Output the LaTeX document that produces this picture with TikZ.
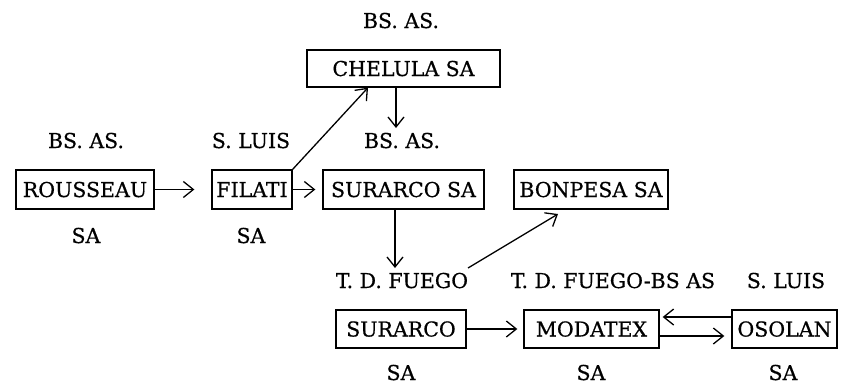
\documentclass[tikz,border=0pt]{standalone}
\usepackage{fontspec}
\setmainfont{DejaVu Serif}[FakeBold=0.6]
\usetikzlibrary{arrows.meta,calc}
\begin{document}
\begin{tikzpicture}[x=1pt,y=-1pt,
  txt/.style={font=\fontsize{20.5}{24}\selectfont},
  box/.style={txt,draw,line width=1.3pt,inner sep=0pt,text height=15pt,text depth=0pt,minimum height=38pt},
  lbl/.style={txt,inner sep=0pt,anchor=base},
  arr/.style={line width=1.3pt,-{Straight Barb[length=10pt,width=16pt,line width=1.3pt]}}]
\useasboundingbox (0,0) rectangle (843,384);
% boxes
\node[box,minimum width=193pt,minimum height=37pt] (chel) at (403.5,68.5) {CHELULA SA};
\node[box,minimum width=138pt,minimum height=39pt] (rous) at (85,189.5) {ROUSSEAU};
\node[box,minimum width=80pt,minimum height=39pt] (fil) at (252,189.5) {FILATI};
\node[box,minimum width=161pt,minimum height=39pt] (sursa) at (403.5,189.5) {SURARCO SA};
\node[box,minimum width=154pt,minimum height=39pt] (bon) at (591,189.5) {BONPESA SA};
\node[box,minimum width=130pt] (sur) at (401,329) {SURARCO};
\node[box,minimum width=135pt] (mod) at (591.5,329) {MODATEX};
\node[box,minimum width=105pt] (oso) at (784.5,329) {OSOLAN};
% labels
\node[lbl] (lchel) at (401,28) {BS. AS.};
\node[lbl] (lrous) at (86,148) {BS. AS.};
\node[lbl] (lfil) at (251,148) {S. LUIS};
\node[lbl] (lsursa) at (402,148) {BS. AS.};
\node[lbl] (srous) at (86,243) {SA};
\node[lbl] (sfil) at (251,243) {SA};
\node[lbl] (lsur) at (402,288) {T. D. FUEGO};
\node[lbl] (lmod) at (613,288) {T. D. FUEGO-BS AS};
\node[lbl] (loso) at (786,288) {S. LUIS};
\node[lbl] (ssur) at (401,380) {SA};
\node[lbl] (smod) at (591,380) {SA};
\node[lbl] (soso) at (783,380) {SA};
% connector end points
\coordinate (a1) at ($(fil.west)+(-17,0)$);
\coordinate (a2) at ($(sursa.west)+(-7,0)$);
\coordinate (a3) at ($(chel.south)+(-35.5,0)$);
\coordinate (a4s) at ($(chel.south)+(-7.5,0)$);
\coordinate (a4e) at (396,128);
\coordinate (a5s) at ($(sursa.south)+(-8.5,0)$);
\coordinate (a5e) at (395,268);
\coordinate (a6s) at (468,268);
\coordinate (a6e) at (558,214);
\coordinate (a7) at ($(mod.west)+(-6,0)$);
\coordinate (a8s) at ($(oso.west)+(0,-12)$);
\coordinate (a8e) at ($(mod.east)+(3,-12)$);
\coordinate (a9s) at ($(mod.east)+(0,7)$);
\coordinate (a9e) at ($(oso.west)+(-7,7)$);
% connectors
\draw[arr] (rous.east) -- (a1);
\draw[arr] (fil.east) -- (a2);
\draw[arr] (fil.north east) -- (a3);
\draw[arr] (a4s) -- (a4e);
\draw[arr] (a5s) -- (a5e);
\draw[arr] (a6s) -- (a6e);
\draw[arr] (sur.east) -- (a7);
\draw[arr] (a8s) -- (a8e);
\draw[arr] (a9s) -- (a9e);
\end{tikzpicture}
\end{document}
